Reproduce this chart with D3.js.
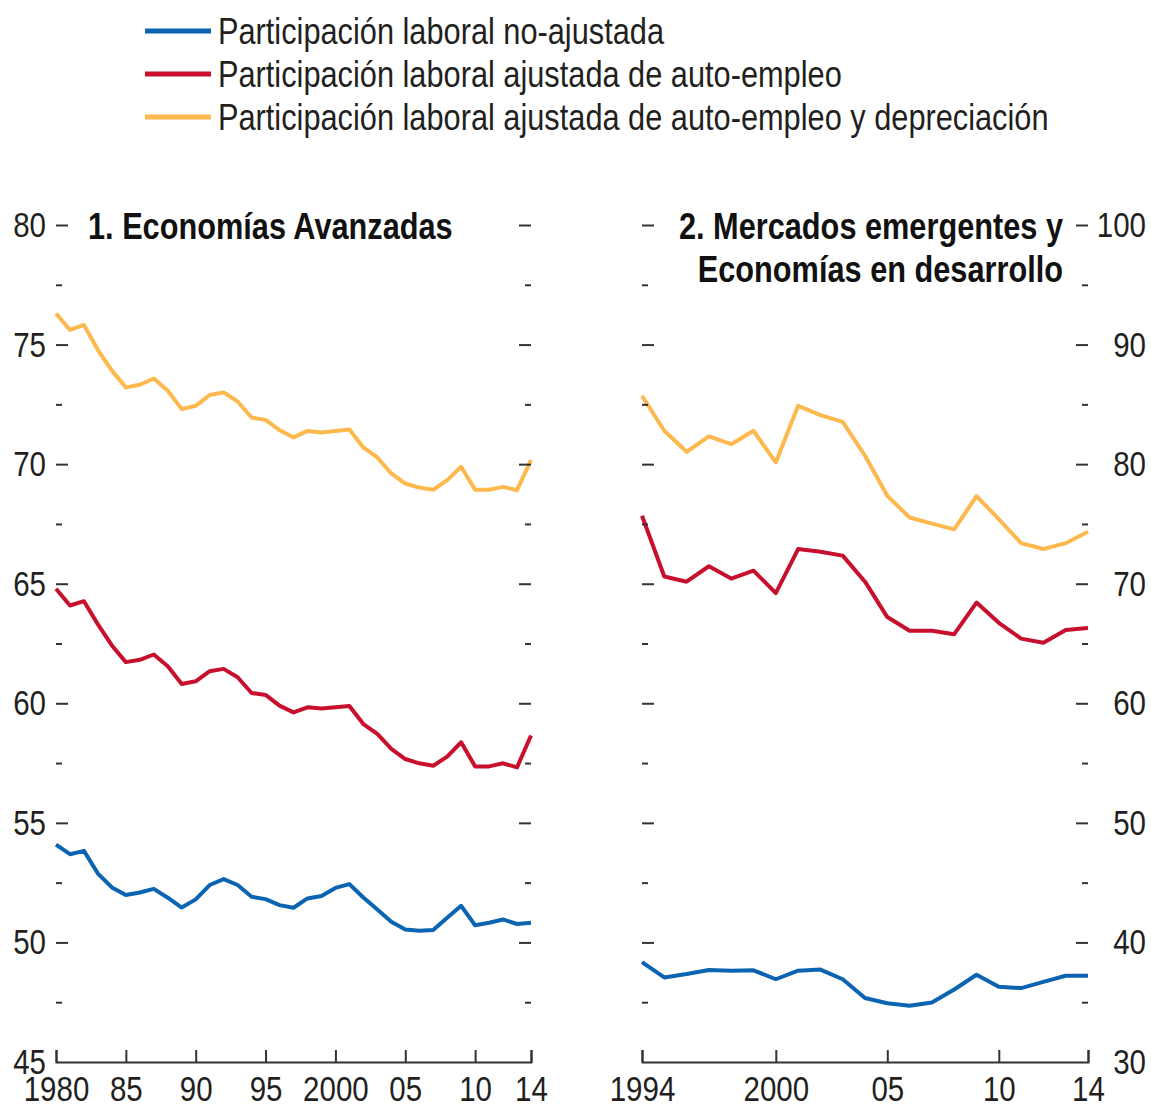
<!DOCTYPE html>
<html>
<head>
<meta charset="utf-8">
<script src="https://cdn.jsdelivr.net/npm/d3@7"></script>
<style>
  body { margin: 0; background: #fff; }
  svg { display: block; font-family: 'Liberation Sans', Arial, sans-serif; }
  .axis text { font-size: 36px; fill: #231f20; }
  .axis line, .axis path { stroke: #333; stroke-width: 2; }
  .legend text { font-size: 37.5px; fill: #231f20; }
  .title { font-size: 37px; font-weight: bold; fill: #111; }
  .line { fill: none; stroke-width: 4; stroke-linejoin: round; }
</style>
</head>
<body>
<div id="chart"></div>
<script>
const seriesNames = [
  'Participación laboral no-ajustada',
  'Participación laboral ajustada de auto-empleo',
  'Participación laboral ajustada de auto-empleo y depreciación',
];
const seriesColors = ['#0b64b2', '#c8102e', '#fdb84e'];

// 1. Economías Avanzadas
const yearsAE = [1980, 1981, 1982, 1983, 1984, 1985, 1986, 1987, 1988, 1989,
  1990, 1991, 1992, 1993, 1994, 1995, 1996, 1997, 1998, 1999,
  2000, 2001, 2002, 2003, 2004, 2005, 2006, 2007, 2008, 2009,
  2010, 2011, 2012, 2013, 2014];
const aeUnadjusted = [54.09, 53.69, 53.83, 52.88, 52.30, 51.98, 52.09, 52.24, 51.87, 51.46,
  51.80, 52.40, 52.65, 52.40, 51.91, 51.81, 51.56, 51.45, 51.84, 51.94,
  52.28, 52.44, 51.88, 51.38, 50.86, 50.54, 50.49, 50.52, 51.03, 51.53,
  50.72, 50.82, 50.96, 50.77, 50.82];
const aeSelfEmp = [64.79, 64.09, 64.27, 63.30, 62.42, 61.72, 61.82, 62.04, 61.55, 60.81,
  60.92, 61.34, 61.44, 61.09, 60.43, 60.35, 59.90, 59.62, 59.83, 59.78,
  59.83, 59.89, 59.13, 58.72, 58.09, 57.67, 57.49, 57.39, 57.77, 58.37,
  57.36, 57.36, 57.49, 57.32, 58.65];
const aeSelfEmpDep = [76.30, 75.61, 75.82, 74.77, 73.91, 73.21, 73.32, 73.58, 73.07, 72.30,
  72.44, 72.89, 73.00, 72.62, 71.95, 71.85, 71.42, 71.12, 71.39, 71.32,
  71.39, 71.45, 70.70, 70.28, 69.61, 69.19, 69.02, 68.93, 69.33, 69.89,
  68.93, 68.93, 69.05, 68.91, 70.17];
const aeYTicks = [45, 50, 55, 60, 65, 70, 75, 80];
const aeYMinor = [47.5, 52.5, 57.5, 62.5, 67.5, 72.5, 77.5];
const aeXTicks = [1980, 1985, 1990, 1995, 2000, 2005, 2010, 2014];
const aeXLabels = ['1980', '85', '90', '95', '2000', '05', '10', '14'];

// 2. Mercados emergentes y Economías en desarrollo
const yearsEM = [1994, 1995, 1996, 1997, 1998, 1999, 2000, 2001, 2002, 2003,
  2004, 2005, 2006, 2007, 2008, 2009, 2010, 2011, 2012, 2013, 2014];
const emUnadjusted = [38.36, 37.07, 37.36, 37.70, 37.64, 37.67, 36.92, 37.64, 37.73, 36.92,
  35.35, 34.91, 34.71, 34.97, 36.06, 37.30, 36.29, 36.18, 36.70, 37.21, 37.21];
const emSelfEmp = [75.68, 70.60, 70.17, 71.46, 70.43, 71.09, 69.22, 72.90, 72.67, 72.35,
  70.17, 67.21, 66.07, 66.07, 65.78, 68.42, 66.73, 65.41, 65.06, 66.12, 66.30];
const emSelfEmpDep = [85.72, 82.79, 81.03, 82.32, 81.67, 82.79, 80.14, 84.88, 84.10, 83.54,
  80.70, 77.35, 75.54, 75.02, 74.54, 77.32, 75.40, 73.39, 72.90, 73.39, 74.34];
const emYTicks = [30, 40, 50, 60, 70, 80, 90, 100];
const emYMinor = [35, 45, 55, 65, 75, 85, 95];
const emXTicks = [1994, 2000, 2005, 2010, 2014];
const emXLabels = ['1994', '2000', '05', '10', '14'];

const width = 1151;
const height = 1109;
const plotTop = 225;
const plotBottom = 1062;
const narrowScale = 0.82;

// no Arial Narrow in the sandbox: squeeze Liberation Sans horizontally instead
const narrow = (sel, s = narrowScale) => sel.each(function squeeze() {
  const t = d3.select(this);
  const x = +t.attr('x') || 0;
  t.attr('x', x / s).attr('transform', `scale(${s},1)`);
});

const svg = d3.select('#chart')
  .append('svg')
  .attr('width', width)
  .attr('height', height);

// legend
const legend = svg.append('g').attr('class', 'legend');
seriesNames.forEach((name, i) => {
  const ly = 31 + i * 43;
  legend.append('line')
    .attr('x1', 145)
    .attr('x2', 211)
    .attr('y1', ly)
    .attr('y2', ly)
    .style('stroke', seriesColors[i])
    .style('stroke-width', 5);
  legend.append('text')
    .attr('x', 218)
    .attr('y', ly)
    .attr('dy', '0.35em')
    .text(name)
    .call(narrow);
});

const drawPanel = (cfg) => {
  const x = d3.scaleLinear()
    .domain([cfg.years[0], cfg.years[cfg.years.length - 1]])
    .range([cfg.x0, cfg.x1]);

  const y = d3.scaleLinear()
    .domain(cfg.yDomain)
    .range([plotBottom, plotTop]);

  const g = svg.append('g');

  const valueline = d3.line()
    .x((d, i) => x(cfg.years[i]))
    .y(d => y(d));

  cfg.series.forEach((values, i) => {
    g.append('path')
      .datum(values)
      .attr('class', 'line')
      .attr('d', valueline)
      .style('stroke', seriesColors[i]);
  });

  const majorTicks = cfg.yTicks.filter(t => t !== cfg.yDomain[0]);

  // left side ticks
  const leftG = g.append('g')
    .attr('class', 'axis')
    .attr('transform', `translate(${cfg.x0},0)`)
    .call(d3.axisLeft(y)
      .tickValues(majorTicks)
      .tickSize(-12)
      .tickPadding(10)
      .tickFormat(cfg.labelsLeft ? d3.format('d') : ''));
  leftG.select('.domain').remove();
  if (cfg.labelsLeft) {
    leftG.append('text')
      .attr('x', -10)
      .attr('y', y(cfg.yDomain[0]))
      .attr('dy', '0.32em')
      .style('text-anchor', 'end')
      .text(cfg.yDomain[0]);
    leftG.selectAll('text').call(narrow);
  }

  g.append('g')
    .attr('class', 'axis')
    .attr('transform', `translate(${cfg.x0},0)`)
    .call(d3.axisLeft(y).tickValues(cfg.yMinor).tickSize(-6).tickFormat(''))
    .select('.domain').remove();

  // right side ticks
  const rightG = g.append('g')
    .attr('class', 'axis')
    .attr('transform', `translate(${cfg.x1},0)`)
    .call(d3.axisRight(y)
      .tickValues(majorTicks)
      .tickSize(-12)
      .tickPadding(10)
      .tickFormat(cfg.labelsRight ? d3.format('d') : ''));
  rightG.select('.domain').remove();
  if (cfg.labelsRight) {
    rightG.selectAll('text')
      .attr('x', 58)
      .style('text-anchor', 'end');
    rightG.append('text')
      .attr('x', 58)
      .attr('y', y(cfg.yDomain[0]))
      .attr('dy', '0.32em')
      .style('text-anchor', 'end')
      .text(cfg.yDomain[0]);
    rightG.selectAll('text').call(narrow);
  }

  g.append('g')
    .attr('class', 'axis')
    .attr('transform', `translate(${cfg.x1},0)`)
    .call(d3.axisRight(y).tickValues(cfg.yMinor).tickSize(-6).tickFormat(''))
    .select('.domain').remove();

  // x axis
  const xG = g.append('g')
    .attr('class', 'axis')
    .attr('transform', `translate(0,${plotBottom})`)
    .call(d3.axisBottom(x)
      .tickValues(cfg.xTicks)
      .tickSizeInner(-12)
      .tickSizeOuter(-12)
      .tickPadding(13)
      .tickFormat((d, i) => cfg.xLabels[i]));
  xG.select('.domain').style('fill', 'none');
  xG.selectAll('text').call(narrow);

  cfg.title.forEach((t, i) => {
    g.append('text')
      .attr('class', 'title')
      .attr('x', cfg.titleX)
      .attr('y', 239 + i * 43)
      .style('text-anchor', cfg.titleAnchor)
      .text(t)
      .call(narrow, 0.83);
  });
};

drawPanel({
  years: yearsAE,
  series: [aeUnadjusted, aeSelfEmp, aeSelfEmpDep],
  x0: 56,
  x1: 531,
  yDomain: [45, 80],
  yTicks: aeYTicks,
  yMinor: aeYMinor,
  xTicks: aeXTicks,
  xLabels: aeXLabels,
  labelsLeft: true,
  labelsRight: false,
  title: ['1. Economías Avanzadas'],
  titleX: 88,
  titleAnchor: 'start',
});

drawPanel({
  years: yearsEM,
  series: [emUnadjusted, emSelfEmp, emSelfEmpDep],
  x0: 642,
  x1: 1088,
  yDomain: [30, 100],
  yTicks: emYTicks,
  yMinor: emYMinor,
  xTicks: emXTicks,
  xLabels: emXLabels,
  labelsLeft: false,
  labelsRight: true,
  title: ['2. Mercados emergentes y', 'Economías en desarrollo'],
  titleX: 1063,
  titleAnchor: 'end',
});
</script>
</body>
</html>
